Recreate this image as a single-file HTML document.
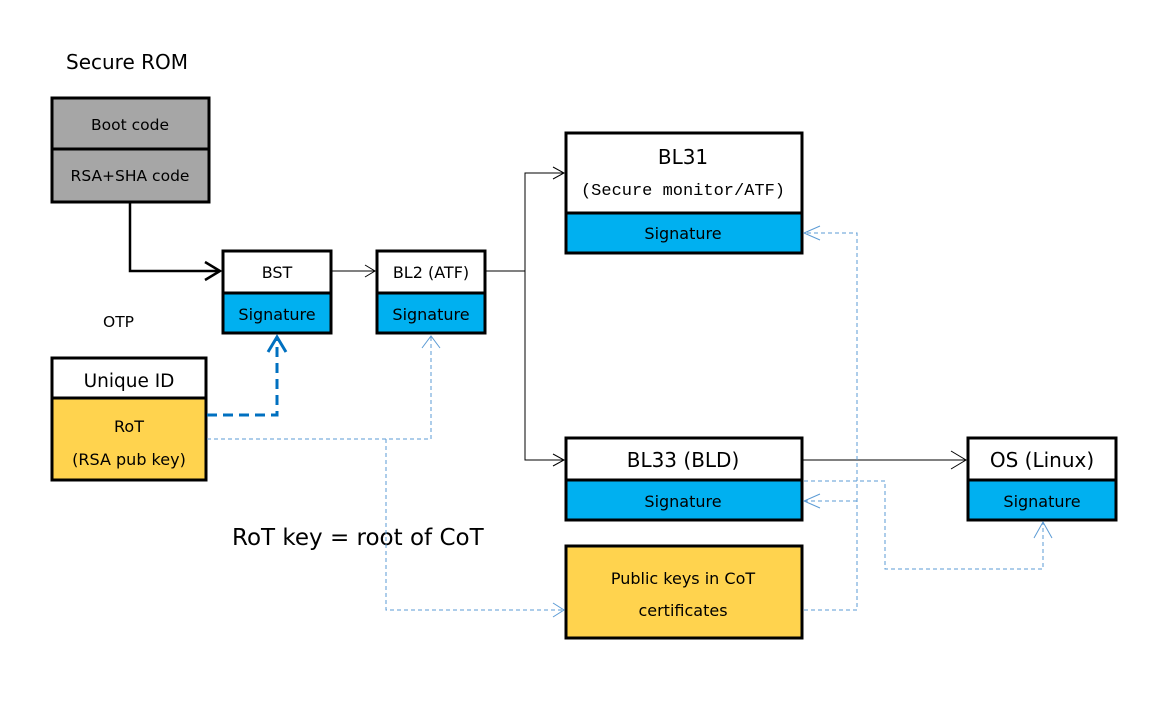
<!DOCTYPE html>
<html><head><style>
body{margin:0;background:#fff;}
svg text{font-family:"DejaVu Sans","Liberation Sans",sans-serif;fill:#000;}
</style></head><body>
<svg width="1176" height="701" xmlns="http://www.w3.org/2000/svg">
<rect width="1176" height="701" fill="#fff"/>
<text x="66" y="69" font-size="20">Secure ROM</text>
<rect x="52" y="98" width="157" height="104" fill="#a6a6a6" stroke="#000" stroke-width="3"/>
<line x1="52" y1="149" x2="209" y2="149" stroke="#000" stroke-width="3"/>
<text x="130" y="130" font-size="15.5" text-anchor="middle">Boot code</text>
<text x="130" y="181" font-size="15.5" text-anchor="middle">RSA+SHA code</text>
<polyline points="130,203 130,271 220,271" fill="none" stroke="#000" stroke-width="2.5"/>
<polyline points="205,262 220,271 205,280" fill="none" stroke="#000" stroke-width="2.5"/>
<rect x="223" y="293" width="108" height="40" fill="#00b0f0"/>
<rect x="223" y="251" width="108" height="82" fill="none" stroke="#000" stroke-width="3"/>
<line x1="223" y1="293" x2="331" y2="293" stroke="#000" stroke-width="3"/>
<text x="277" y="278" font-size="16" text-anchor="middle">BST</text>
<text x="277" y="320" font-size="16" text-anchor="middle">Signature</text>
<line x1="332" y1="271" x2="375" y2="271" stroke="#000" stroke-width="1"/>
<polyline points="365,265 375,271 365,277" fill="none" stroke="#000" stroke-width="1"/>
<rect x="377" y="293" width="108" height="40" fill="#00b0f0"/>
<rect x="377" y="251" width="108" height="82" fill="none" stroke="#000" stroke-width="3"/>
<line x1="377" y1="293" x2="485" y2="293" stroke="#000" stroke-width="3"/>
<text x="431" y="278" font-size="16" text-anchor="middle">BL2 (ATF)</text>
<text x="431" y="320" font-size="16" text-anchor="middle">Signature</text>
<polyline points="486,271 525,271" fill="none" stroke="#000"/>
<polyline points="564,173 525,173 525,460 564,460" fill="none" stroke="#000"/>
<polyline points="553,167 564,173 553,179" fill="none" stroke="#000"/>
<polyline points="553,454 564,460 553,466" fill="none" stroke="#000"/>
<rect x="566" y="213" width="236" height="40" fill="#00b0f0"/>
<rect x="566" y="133" width="236" height="120" fill="none" stroke="#000" stroke-width="3"/>
<line x1="566" y1="213" x2="802" y2="213" stroke="#000" stroke-width="3"/>
<text x="683" y="164" font-size="20" text-anchor="middle">BL31</text>
<text x="683" y="195" font-size="17" text-anchor="middle" style="font-family:'Liberation Mono',monospace">(Secure monitor/ATF)</text>
<text x="683" y="239" font-size="16" text-anchor="middle">Signature</text>
<rect x="566" y="480" width="236" height="40" fill="#00b0f0"/>
<rect x="566" y="438" width="236" height="82" fill="none" stroke="#000" stroke-width="3"/>
<line x1="566" y1="480" x2="802" y2="480" stroke="#000" stroke-width="3"/>
<text x="683" y="467" font-size="20" text-anchor="middle">BL33 (BLD)</text>
<text x="683" y="507" font-size="16" text-anchor="middle">Signature</text>
<line x1="803" y1="460" x2="966" y2="460" stroke="#000"/>
<polyline points="951,451 966,460 951,469" fill="none" stroke="#000"/>
<rect x="968" y="480" width="148" height="40" fill="#00b0f0"/>
<rect x="968" y="438" width="148" height="82" fill="none" stroke="#000" stroke-width="3"/>
<line x1="968" y1="480" x2="1116" y2="480" stroke="#000" stroke-width="3"/>
<text x="1042" y="467" font-size="20" text-anchor="middle">OS (Linux)</text>
<text x="1042" y="507" font-size="16" text-anchor="middle">Signature</text>
<text x="103" y="327" font-size="15.5">OTP</text>
<rect x="52" y="398" width="154" height="82" fill="#ffd34e"/>
<rect x="52" y="358" width="154" height="122" fill="none" stroke="#000" stroke-width="3"/>
<line x1="52" y1="398" x2="206" y2="398" stroke="#000" stroke-width="3"/>
<text x="129" y="387" font-size="18.5" text-anchor="middle">Unique ID</text>
<text x="129" y="432" font-size="16" text-anchor="middle">RoT</text>
<text x="129" y="465" font-size="16" text-anchor="middle">(RSA pub key)</text>
<rect x="566" y="546" width="236" height="92" fill="#ffd34e" stroke="#000" stroke-width="3"/>
<text x="683" y="584" font-size="16" text-anchor="middle">Public keys in CoT</text>
<text x="683" y="616" font-size="16" text-anchor="middle">certificates</text>
<text x="232" y="545" font-size="23">RoT key = root of CoT</text>
<polyline points="207,415 277,415 277,337" fill="none" stroke="#0070c0" stroke-width="3" stroke-dasharray="10,6"/>
<polyline points="268,352 277,337 286,352" fill="none" stroke="#0070c0" stroke-width="3"/>
<g fill="none" stroke="#5b9bd5" stroke-width="1" stroke-dasharray="4,3">
<polyline points="207,439 431,439 431,336"/>
<polyline points="386,439 386,610 564,610"/>
<polyline points="804,610 857,610 857,233 804,233"/>
<polyline points="857,501 804,501"/>
<polyline points="804,481 885,481 885,569 1043,569 1043,522"/>
</g>
<g fill="none" stroke="#5b9bd5" stroke-width="1">
<polyline points="422,348 431,336 440,348"/>
<polyline points="553,603 564,610 553,617"/>
<polyline points="820,226 804,233 820,240"/>
<polyline points="820,494 804,501 820,508"/>
<polyline points="1034,538 1043,522 1052,538"/>
</g>
</svg>
</body></html>
